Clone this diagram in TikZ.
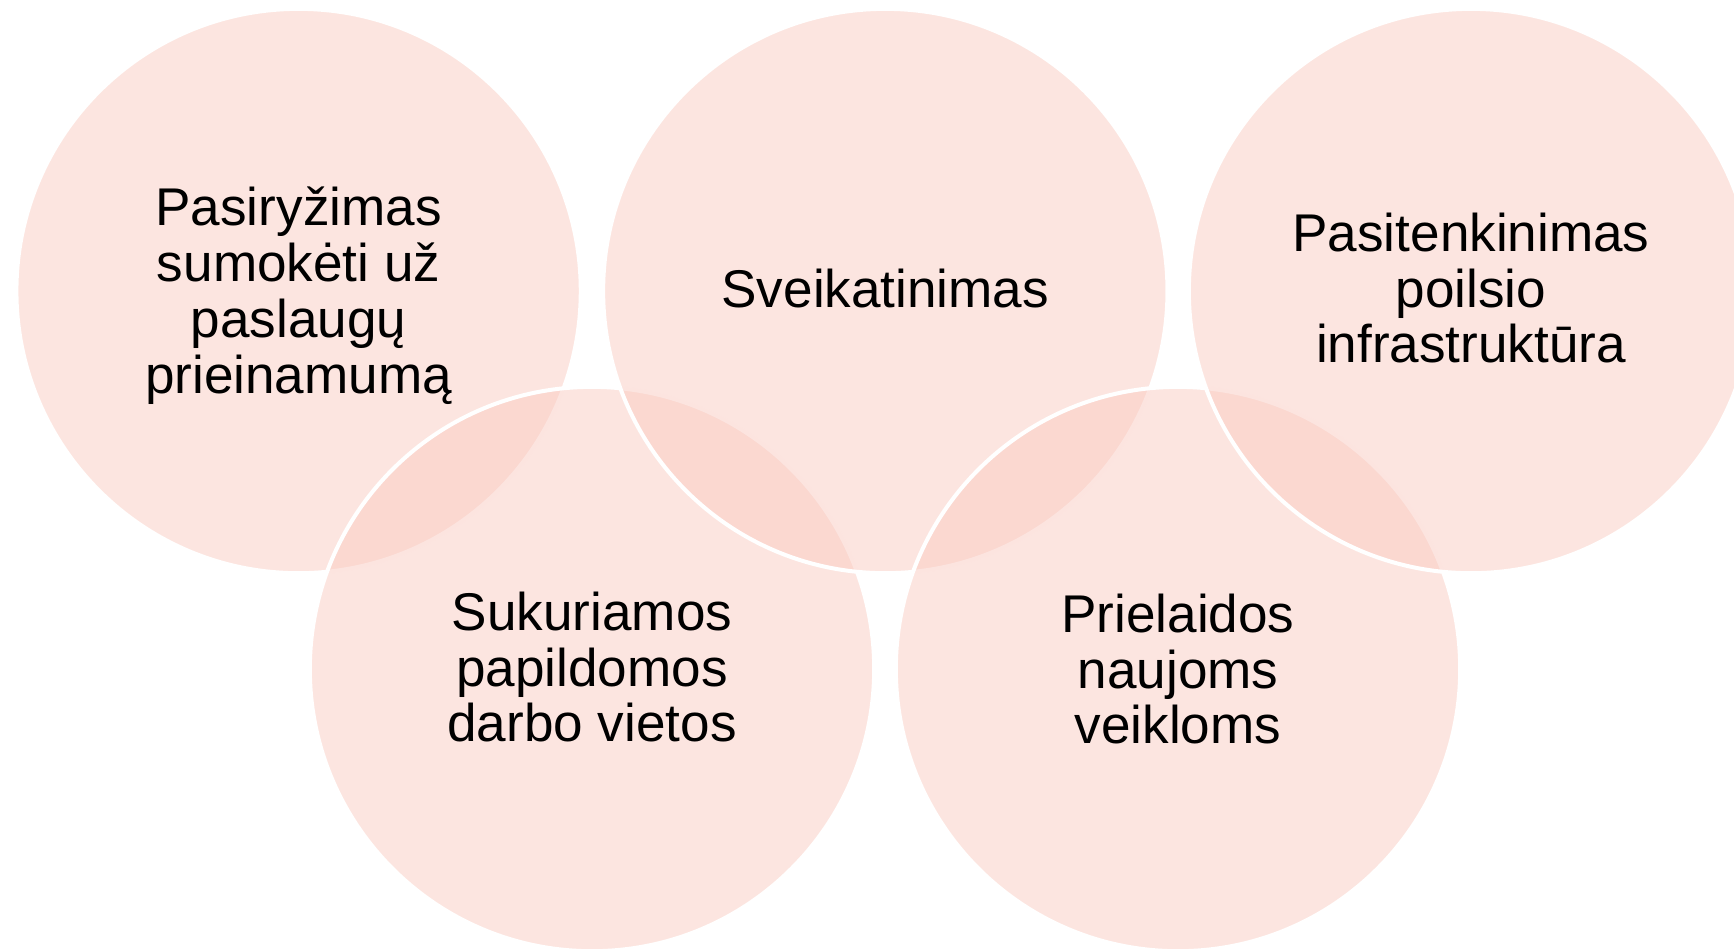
\documentclass[tikz,border=0pt]{standalone}
\usepackage{fontspec}
\setmainfont{Liberation Sans}
\definecolor{ringfill}{RGB}{250,203,193}
\begin{document}
\begin{tikzpicture}[x=0.01cm,y=-0.01cm,
  ring/.style={circle, minimum size=5.64cm, inner sep=0pt, fill=ringfill, fill opacity=0.5, draw=white, line width=0.04cm},
  lbl/.style={align=center, font=\fontsize{15.1pt}{15.65pt}\selectfont, text=black, inner sep=0pt}]
\path[use as bounding box, clip] (0,0) rectangle (1734,950);
\node[ring] (c1) at (298.6,291) {};
\node[ring] (c4) at (592,669) {};
\node[ring] (c2) at (885.3,291) {};
\node[ring] (c5) at (1178,669) {};
\node[ring] (c3) at (1471,291) {};
\node[lbl, font=\fontsize{15.1pt}{15.9pt}\selectfont] (t1) at (298.6,295.5) {Pasiryžimas\\sumokėti už\\paslaugų\\prieinamumą};
\node[lbl] (t2) at (885.3,288) {Sveikatinimas};
\node[lbl] (t3) at (1471,288) {Pasitenkinimas\\poilsio\\infrastruktūra};
\node[lbl] (t4) at (592,667) {Sukuriamos\\papildomos\\darbo vietos};
\node[lbl] (t5) at (1178,669) {Prielaidos\\naujoms\\veikloms};
\end{tikzpicture}
\end{document}
